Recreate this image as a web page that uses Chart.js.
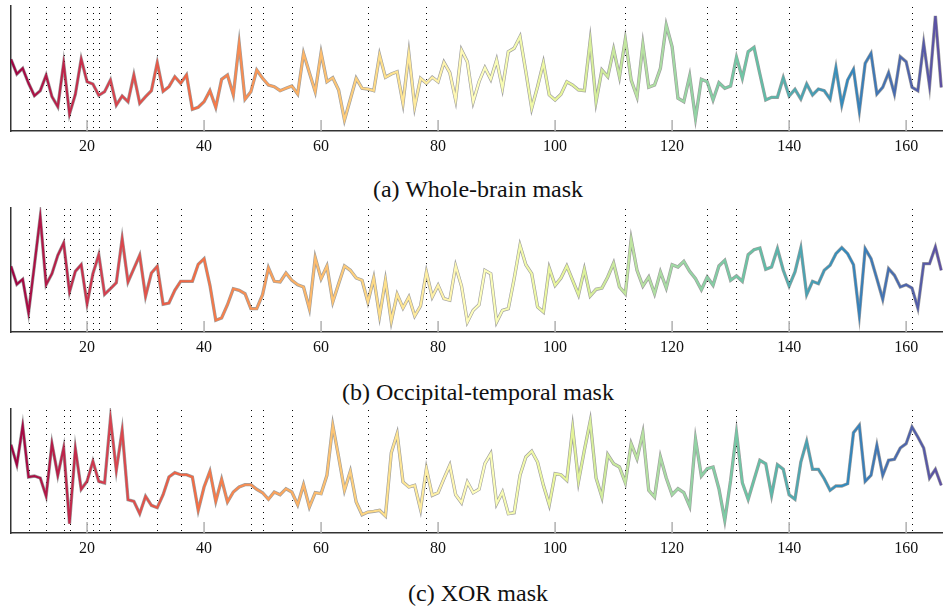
<!DOCTYPE html>
<html>
<head>
<meta charset="utf-8">
<script src="https://cdn.jsdelivr.net/npm/chart.js@4"></script>
<style>
  body { margin: 0; background: #fff; width: 943px; height: 607px; position: relative; overflow: hidden; }
  canvas { position: absolute; left: 0; }
  .caption { position: absolute; left: 0; width: 956px; text-align: center; font-family: 'Liberation Serif', 'Times New Roman', serif; font-size: 24px; line-height: 1; color: #111; }
</style>
</head>
<body>
<canvas id="chartA" width="943" height="156" style="top:5px"></canvas>
<div class="caption" style="top:177px">(a) Whole-brain mask</div>
<canvas id="chartB" width="943" height="155" style="top:207px"></canvas>
<div class="caption" style="top:380px">(b) Occipital-temporal mask</div>
<canvas id="chartC" width="943" height="155" style="top:408px"></canvas>
<div class="caption" style="top:581px">(c) XOR mask</div>
<script>
// first x value, one point per step of 1
const firstX = 7;
const lastX = 166;
const tickValues = [20, 40, 60, 80, 100, 120, 140, 160];
// dotted markers
const markerX = [10, 13, 16, 17, 20, 21, 22, 24, 32, 36, 48, 50, 55, 68, 78, 112, 126, 131, 140, 161];

const wholeBrain = [
  71.7, 57, 62.7, 47.7, 35.3, 40.3, 55.7, 34.3, 24.3, 67.7, 17, 36.7, 72, 49.3,          // 7-20
  47, 35.7, 39.3, 51, 26, 35, 29.3, 56, 27.7, 34.3,                                      // 21-30
  40.3, 68.3, 39.7, 44.3, 54.3, 47.7, 56, 21.7, 23.7, 29.3,                              // 31-40
  40.3, 23.7, 51.7, 56, 36, 87.7, 31.7, 39.3, 61, 52.7,                                  // 41-50
  46, 44.3, 40.3, 42.7, 45, 37, 77.7, 58.3, 39.3, 78.3,                                  // 51-60
  49.3, 53.3, 41, 11, 31.7, 52.7, 42.7, 42, 40.3, 76,                                    // 61-70
  53.7, 57, 59.3, 27.7, 77.7, 24.3, 52.7, 47.7, 53.7, 49.3,                              // 71-80
  68.7, 58.3, 31, 81, 69.3, 29.3, 49.3, 63.3, 51.7, 71,                                  // 81-90
  42.7, 79.3, 82.7, 94.3, 59.3, 22.7, 44.3, 68.3, 36, 31,                                // 91-100
  36.7, 49.3, 46, 41, 40.3, 90.3, 29.3, 61, 54.3, 81.7,                                  // 101-110
  54.3, 91.7, 51, 34.3, 86.7, 43.7, 46, 62.7, 106, 84.3,                                 // 111-120
  32.7, 29.3, 55, 12.7, 51.7, 49.3, 31, 48.3, 42.7, 45,                                  // 121-130
  73.7, 52.7, 79.3, 83.7, 57, 31, 33.7, 33.7, 53.3, 35,                                  // 131-140
  41.7, 32, 47, 36, 42, 40.3, 32, 63.3, 26, 51,                                          // 141-150
  61.7, 20, 67.7, 77.7, 37, 43.7, 58.3, 37, 74.3, 69.3,                                  // 151-160
  43.7, 40.3, 87.7, 45, 115, 43.7                                                        // 161-166
];

const occipitalTemporal = [
  65.7, 47.7, 52.7, 19.3, 66.7, 115, 47.3, 58.3, 76.7, 89, 40, 60.7, 67.3, 28.3,         // 7-20
  58.3, 77.3, 37.7, 43.3, 49.3, 93.3, 50, 63.3, 76.7, 35.7,                              // 21-30
  59, 65.7, 27.7, 29, 41.7, 50.7, 50.7, 50.7, 67.7, 73.3,                                // 31-40
  46.7, 11.7, 14, 27.3, 43.3, 41.7, 38.3, 23.3, 23.3, 37.3,                              // 41-50
  64.3, 50.7, 50, 59, 51.7, 47.3, 45, 23.3, 74.3, 53.3,                                  // 51-60
  66, 30, 48.3, 66, 61.7, 54, 51.7, 30, 54, 16,                                          // 61-70
  51.7, 10.7, 37.7, 24, 35, 16, 26, 60, 35, 46.7,                                        // 71-80
  33.3, 31.7, 66, 46, 10, 21.7, 27.3, 61.7, 58.3, 10,                                    // 81-90
  21.7, 23.3, 53.3, 86.7, 67.3, 58.3, 25, 20, 64, 46.7,                                  // 91-100
  54, 66, 51.7, 37.3, 62.7, 36, 42.7, 44, 55, 69,                                        // 101-110
  45, 38.3, 92.7, 61.7, 46, 55, 38.3, 60, 44, 67.3,                                      // 111-120
  65, 70.7, 60.7, 53.3, 42.3, 55, 46.7, 66, 71.7, 51.7,                                  // 121-130
  56, 50.7, 77.3, 82.3, 84, 62.7, 65, 83.3, 61.7, 46,                                    // 131-140
  60, 84, 37.3, 50.7, 48.3, 61.7, 66.7, 78.3, 84.3, 78.3,                                // 141-150
  67.3, 16.7, 83.3, 73.3, 53.3, 32.7, 63.3, 56.7, 45, 47.3,                              // 151-160
  44, 24, 68.3, 68.3, 85, 61.7                                                           // 161-166
];

const xorMask = [
  88.3, 68.3, 107, 56, 57, 55, 37, 89.3, 57.7, 85, 9.3, 84.3, 43.7, 51.7,                // 7-20
  71.7, 51.7, 50, 114.3, 62.7, 102.7, 33.3, 31.7, 19.3, 36.7,                            // 21-30
  27.7, 25.3, 38.3, 56, 60.3, 58.3, 58.3, 56, 22.7, 46,                                  // 31-40
  61.7, 31.7, 53.7, 31, 41, 46, 48.3, 48.3, 43.7, 40.3,                                  // 41-50
  33.7, 41, 38.3, 44.3, 41, 28.3, 48.3, 26, 40.3, 39.3,                                  // 51-60
  57.7, 107.7, 76, 42.7, 61.7, 31, 18.3, 21, 21.7, 22.7,                                 // 61-70
  17, 80.3, 99.3, 51, 46, 47.7, 23.7, 64.3, 37.7, 40.3,                                  // 71-80
  54.3, 67.7, 38.3, 30.3, 51, 40.3, 43.7, 69.3, 79.3, 29.3,                              // 81-90
  41, 19.3, 20.3, 57.7, 76, 81.7, 71, 47.7, 28.3, 59.3,                                  // 91-100
  58.3, 52.7, 105, 51.7, 82.7, 111.7, 55, 36, 78.3, 69.3,                                // 101-110
  66, 50.3, 89.3, 74.3, 100.3, 42.7, 36, 76, 55, 38.3,                                   // 111-120
  44.3, 40.3, 26.7, 93.7, 57, 64.3, 66, 44.3, 12.7, 52.7,                                // 121-130
  100.3, 50.3, 33.7, 53.3, 72.7, 69.3, 37.7, 68.3, 63.7, 38.3,                           // 131-140
  33.7, 71, 91.7, 63.7, 63.7, 54.3, 42.7, 47, 47, 49.3,                                  // 141-150
  100.3, 107.7, 51.7, 57.7, 87.7, 57.7, 72.7, 73.7, 85, 89.3,                            // 151-160
  106, 96, 85, 55, 63.7, 47.7                                                            // 161-166
];

// spectral colour map, red -> purple along x
const spectralStops = ['#9e0142', '#d53e4f', '#f46d43', '#fdae61', '#fee08b', '#ffffbf',
                       '#e6f598', '#abdda4', '#66c2a5', '#3288bd', '#5e4fa2'];

function spectralGradient(context) {
  const chart = context.chart;
  if (!chart.chartArea) return '#d53e4f';
  const xs = chart.scales.x;
  const x0 = xs.getPixelForValue(firstX);
  const x1 = xs.getPixelForValue(lastX);
  const g = chart.ctx.createLinearGradient(x0, 0, x1, 0);
  spectralStops.forEach(function(c, i) { g.addColorStop(i / (spectralStops.length - 1), c); });
  return g;
}

const markerPlugin = {
  id: 'markers',
  beforeDatasetsDraw: function(chart) {
    const ctx = chart.ctx, ca = chart.chartArea, xs = chart.scales.x;
    ctx.save();
    // dotted vertical lines
    ctx.strokeStyle = '#000';
    ctx.lineWidth = 1;
    ctx.setLineDash([1, 5]);
    markerX.forEach(function(v) {
      const px = Math.round(xs.getPixelForValue(v)) + 0.5;
      ctx.beginPath();
      ctx.moveTo(px, ca.top + 2);
      ctx.lineTo(px, ca.bottom);
      ctx.stroke();
    });
    // small inner tick marks
    ctx.setLineDash([]);
    ctx.strokeStyle = '#b0b0b0';
    ctx.lineWidth = 1.5;
    tickValues.forEach(function(v) {
      const px = xs.getPixelForValue(v);
      ctx.beginPath();
      ctx.moveTo(px, ca.bottom - 11);
      ctx.lineTo(px, ca.bottom);
      ctx.stroke();
    });
    ctx.restore();
  }
};

function makePanel(id, values, plotHeight) {
  const points = values.map(function(v, i) { return { x: firstX + i, y: v }; });
  new Chart(document.getElementById(id).getContext('2d'), {
    type: 'line',
    data: {
      datasets: [{
        data: points,
        borderColor: spectralGradient,
        borderWidth: 2.1,
        pointRadius: 0,
        tension: 0,
        order: 0
      }, {
        data: points,
        borderColor: 'rgba(60, 60, 60, 0.5)',
        borderWidth: 3.3,
        pointRadius: 0,
        tension: 0,
        order: 1
      }]
    },
    options: {
      responsive: false,
      animation: false,
      events: [],
      layout: { padding: 0 },
      plugins: { legend: { display: false }, tooltip: { enabled: false } },
      scales: {
        x: {
          type: 'linear',
          min: firstX,
          max: 166.3,
          afterBuildTicks: function(s) { s.ticks = tickValues.map(function(v) { return { value: v }; }); },
          afterFit: function(s) { s.height = 30; },
          grid: { display: false, drawTicks: false },
          border: { display: true, color: '#333', width: 1.5 },
          ticks: {
            autoSkip: false,
            maxRotation: 0,
            padding: 6,
            color: '#111',
            font: { family: "'Liberation Serif', 'Times New Roman', serif", size: 16 }
          }
        },
        y: {
          min: 0,
          max: plotHeight,
          afterFit: function(s) { s.width = 11; },
          grid: { display: false, drawTicks: false },
          border: { display: true, color: '#333', width: 1.5 },
          ticks: { display: false }
        }
      }
    },
    plugins: [markerPlugin]
  });
}

makePanel('chartA', wholeBrain, 126);
makePanel('chartB', occipitalTemporal, 125);
makePanel('chartC', xorMask, 125);
</script>
</body>
</html>
